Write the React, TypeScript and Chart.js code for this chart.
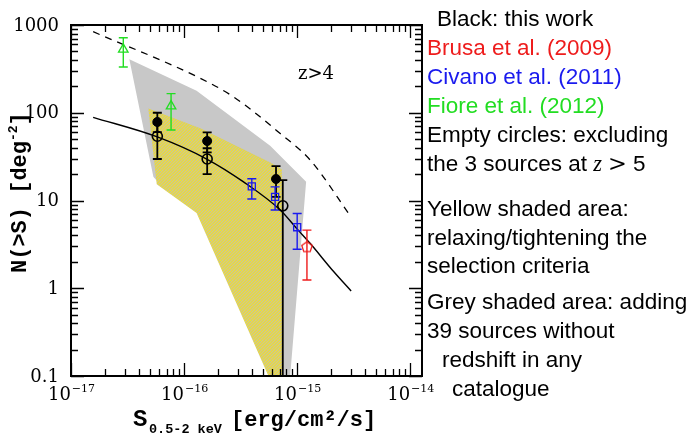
import React, { useEffect, useRef } from 'react';
import { Chart, registerables } from 'chart.js';

Chart.register(...registerables);

// ---------- axis ranges & ticks ----------
const xMin = 1e-17;
const xMax = 1.27e-14;
const yMin = 0.1;
const yMax = 1000;
const xMajorTicks = [1e-17, 1e-16, 1e-15, 1e-14];
const xTickExponents = ['−17', '−16', '−15', '−14'];
const yMajorTicks = [0.1, 1, 10, 100, 1000];
const yTickLabels = ['0.1', '1', '10', '100', '1000'];

// ---------- data ----------
// this work, filled circles
const thisWorkFlux = [5.8e-17, 1.6e-16, 6.5e-16];
const thisWorkN = [78.5, 47.6, 17.6];
const thisWorkHi = [100, 59.8, 24.7];
const thisWorkLo = [60, 35.4, 11];
// this work excluding z>5 sources, empty circles
const exclFlux = [5.8e-17, 1.6e-16, 7.46e-16];
const exclN = [54, 29.7, 8.7];
const exclHi = [75, 39.4, 17.1];
const exclLo = [29.7, 20, 0.05];
// Civano et al. (2011)
const civanoFlux = [3.97e-16, 6.38e-16, 1.0e-15];
const civanoN = [14.5, 11.0, 4.96];
const civanoHi = [17.7, 14.3, 7.1];
const civanoLo = [10.4, 7.8, 2.78];
// Brusa et al. (2009)
const brusaFlux = [1.22e-15];
const brusaN = [2.98];
const brusaHi = [4.6];
const brusaLo = [1.24];
// Fiore et al. (2012)
const fioreFlux = [2.9e-17, 7.67e-17];
const fioreN = [528, 119];
const fioreHi = [716, 165];
const fioreLo = [332, 63.5];
// model curves
const modelFlux = [1.57e-17, 5.8e-17, 1.6e-16, 3.33e-16, 7.08e-16, 1.02e-15, 1.3e-15, 2.1e-15, 3.0e-15];
const modelN = [88.7, 53, 29.5, 16.4, 7.8, 4.6, 3.25, 1.55, 0.93];
const dashedFlux = [1.57e-17, 1.39e-16, 2.73e-16, 7.08e-16, 1.3e-15, 3.0e-15];
const dashedN = [839, 247, 152, 58, 29, 6.5];
// shaded areas (polygon vertices)
const greyFlux = [3.28e-17, 1.29e-16, 5.77e-16, 1.2e-15, 8.67e-16, 6.0e-16, 1.4e-16, 6.5e-17, 5.35e-17, 3.28e-17];
const greyN = [406, 178, 42, 16.4, 0.1, 0.1, 7.5, 14, 18.7, 406];
const yellowFlux = [4.83e-17, 1.39e-16, 5.97e-16, 7.32e-16, 7.32e-16, 5.57e-16, 1.29e-16, 5.73e-17, 4.83e-17];
const yellowN = [112, 66.5, 26.5, 22.5, 0.1, 0.1, 7.2, 15.3, 112];

const BLACK = '#000000';
const RED = '#ee1c1c';
const BLUE = '#1a1aee';
const GREEN = '#22dd22';

const zip = (xs: number[], ys: number[]) => xs.map((x, i) => ({ x, y: ys[i] }));

function makeHatch(): CanvasPattern | string {
  const c = document.createElement('canvas');
  c.width = 3;
  c.height = 3;
  const g = c.getContext('2d');
  if (!g) return '#ddd058';
  g.fillStyle = '#e6d848';
  g.fillRect(0, 0, 3, 3);
  g.fillStyle = '#c9c49c';
  g.fillRect(0, 2, 1, 1);
  g.fillRect(1, 1, 1, 1);
  g.fillRect(2, 0, 1, 1);
  return g.createPattern(c, 'repeat') || '#ddd058';
}

function makePentagon(color: string): HTMLCanvasElement {
  const c = document.createElement('canvas');
  c.width = 14;
  c.height = 14;
  const g = c.getContext('2d');
  if (g) {
    g.strokeStyle = color;
    g.lineWidth = 1.3;
    g.beginPath();
    for (let i = 0; i < 5; i++) {
      const a = -Math.PI / 2 + (i * 2 * Math.PI) / 5;
      const px = 7 + 5.5 * Math.cos(a);
      const py = 7.5 + 5.5 * Math.sin(a);
      if (i === 0) g.moveTo(px, py); else g.lineTo(px, py);
    }
    g.closePath();
    g.stroke();
  }
  return c;
}

const errorSeries = [
  { x: thisWorkFlux, y: thisWorkN, hi: thisWorkHi, lo: thisWorkLo, color: BLACK, w: 1.8 },
  { x: exclFlux, y: exclN, hi: exclHi, lo: exclLo, color: BLACK, w: 1.8 },
  { x: civanoFlux, y: civanoN, hi: civanoHi, lo: civanoLo, color: BLUE, w: 1.4 },
  { x: brusaFlux, y: brusaN, hi: brusaHi, lo: brusaLo, color: RED, w: 1.4 },
  { x: fioreFlux, y: fioreN, hi: fioreHi, lo: fioreLo, color: GREEN, w: 1.4 },
];

const errorBarPlugin = {
  id: 'errorBars',
  afterDatasetDraw(chart: any, args: any) {
    if (args.meta.order !== 7) return;
    const ctx = chart.ctx;
    const xs = chart.scales.x;
    const ys = chart.scales.y;
    const { left, right, top, bottom } = chart.chartArea;
    ctx.save();
    ctx.beginPath();
    ctx.rect(left, top, right - left, bottom - top);
    ctx.clip();
    for (const s of errorSeries) {
      ctx.strokeStyle = s.color;
      ctx.lineWidth = s.w;
      for (let i = 0; i < s.x.length; i++) {
        const px = xs.getPixelForValue(s.x[i]);
        const pHi = ys.getPixelForValue(s.hi[i]);
        const pLo = ys.getPixelForValue(s.lo[i]);
        ctx.beginPath();
        ctx.moveTo(px, pHi);
        ctx.lineTo(px, pLo);
        ctx.moveTo(px - 4.5, pHi);
        ctx.lineTo(px + 4.5, pHi);
        ctx.moveTo(px - 4.5, pLo);
        ctx.lineTo(px + 4.5, pLo);
        ctx.stroke();
      }
    }
    ctx.restore();
  },
};

function drawSup(ctx: CanvasRenderingContext2D, base: string, sup: string, cx: number, y: number) {
  ctx.font = '18px "DejaVu Serif"';
  const wb = ctx.measureText(base).width;
  ctx.font = '11px "DejaVu Serif"';
  const ws = ctx.measureText(sup).width;
  const x0 = cx - (wb + ws) / 2;
  ctx.textAlign = 'left';
  ctx.textBaseline = 'alphabetic';
  ctx.font = '18px "DejaVu Serif"';
  ctx.fillText(base, x0, y);
  ctx.font = '11px "DejaVu Serif"';
  ctx.fillText(sup, x0 + wb + 1, y - 8);
}

const notes = [
  { text: 'Black: this work', color: BLACK, x: 437, y: 26 },
  { text: 'Brusa et al. (2009)', color: RED, x: 427, y: 55 },
  { text: 'Civano et al. (2011)', color: BLUE, x: 427, y: 84 },
  { text: 'Fiore et al. (2012)', color: GREEN, x: 427, y: 113 },
  { text: 'Empty circles: excluding', color: BLACK, x: 427, y: 142 },
  { text: 'Yellow shaded area:', color: BLACK, x: 427, y: 216 },
  { text: 'relaxing/tightening the', color: BLACK, x: 427, y: 245 },
  { text: 'selection criteria', color: BLACK, x: 427, y: 273 },
  { text: 'Grey shaded area: adding', color: BLACK, x: 427, y: 309 },
  { text: '39 sources without', color: BLACK, x: 427, y: 338 },
  { text: 'redshift in any', color: BLACK, x: 442, y: 367 },
  { text: 'catalogue', color: BLACK, x: 452, y: 396 },
];

const axesPlugin = {
  id: 'axesFrame',
  afterDraw(chart: any) {
    const ctx: CanvasRenderingContext2D = chart.ctx;
    const xs = chart.scales.x;
    const ys = chart.scales.y;
    const { left, right, top, bottom } = chart.chartArea;
    ctx.save();
    ctx.strokeStyle = '#000';
    ctx.fillStyle = '#000';
    // ticks
    ctx.lineWidth = 1.3;
    ctx.beginPath();
    for (const dec of xMajorTicks) {
      for (let m = 1; m <= 9; m++) {
        const v = m * dec;
        if (v > xMax * 1.0001) break;
        const px = Math.round(xs.getPixelForValue(v)) + 0.5;
        const len = m === 1 ? 13 : 7;
        ctx.moveTo(px, bottom);
        ctx.lineTo(px, bottom - len);
        ctx.moveTo(px, top);
        ctx.lineTo(px, top + len);
      }
    }
    for (const dec of yMajorTicks) {
      for (let m = 1; m <= 9; m++) {
        const v = m * dec;
        if (v > yMax * 1.0001) break;
        const py = Math.round(ys.getPixelForValue(v)) + 0.5;
        const len = m === 1 ? 13 : 7;
        ctx.moveTo(left, py);
        ctx.lineTo(left + len, py);
        ctx.moveTo(right, py);
        ctx.lineTo(right - len, py);
      }
    }
    ctx.stroke();
    // frame
    ctx.lineWidth = 2;
    ctx.strokeRect(left, top, right - left, bottom - top);

    // tick labels
    ctx.font = '18px "DejaVu Serif"';
    ctx.textAlign = 'right';
    ctx.textBaseline = 'middle';
    yMajorTicks.forEach((v, i) => {
      ctx.fillText(yTickLabels[i], 59, ys.getPixelForValue(v) + 1);
    });
    xMajorTicks.forEach((v, i) => {
      drawSup(ctx, '10', xTickExponents[i], xs.getPixelForValue(v), 400);
    });

    // z>4
    ctx.font = '18px "DejaVu Serif"';
    ctx.textAlign = 'left';
    ctx.textBaseline = 'alphabetic';
    ctx.fillText('z>4', 298, 79);

    // x title
    ctx.font = 'bold 24px "Liberation Mono"';
    ctx.fillText('S', 133, 426);
    ctx.font = 'bold 13.5px "Liberation Mono"';
    ctx.fillText('0.5-2 keV', 149, 433);
    ctx.font = 'bold 22px "Liberation Mono"';
    ctx.fillText('[erg/cm²/s]', 231, 426);

    // y title (rotated)
    ctx.save();
    ctx.translate(26, 273);
    ctx.rotate(-Math.PI / 2);
    ctx.font = 'bold 22px "Liberation Mono"';
    const t1 = 'N(>S) [deg';
    ctx.fillText(t1, 0, 0);
    let w = ctx.measureText(t1).width;
    ctx.font = 'bold 13px "Liberation Mono"';
    ctx.fillText('-2', w, -9);
    w += ctx.measureText('-2').width;
    ctx.font = 'bold 22px "Liberation Mono"';
    ctx.fillText(']', w, 0);
    ctx.restore();

    // notes on the right
    ctx.font = '22.5px "Liberation Sans"';
    for (const n of notes) {
      ctx.fillStyle = n.color;
      ctx.fillText(n.text, n.x, n.y);
    }
    ctx.fillStyle = '#000';
    let x = 427;
    const y = 171;
    const p1 = 'the 3 sources at ';
    ctx.fillText(p1, x, y);
    x += ctx.measureText(p1).width;
    ctx.font = 'italic 22.5px "Liberation Serif"';
    ctx.fillText('z', x, y);
    x += ctx.measureText('z').width + 6;
    ctx.font = '22.5px "DejaVu Serif"';
    ctx.fillText('>', x, y);
    x += ctx.measureText('>').width + 6;
    ctx.font = '22.5px "Liberation Sans"';
    ctx.fillText('5', x, y);

    ctx.restore();
  },
};

export default function App() {
  const ref = useRef<HTMLCanvasElement | null>(null);
  useEffect(() => {
    if (!ref.current) return;
    const hatch = makeHatch();
    const pentagon = makePentagon(RED);
    const chart = new Chart(ref.current, {
      type: 'line',
      data: {
        datasets: [
          {
            label: 'grey',
            data: zip(greyFlux, greyN),
            borderWidth: 0,
            borderColor: 'rgba(0,0,0,0)',
            backgroundColor: '#c8c8c8',
            fill: 'shape',
            pointRadius: 0,
            tension: 0,
            order: 10,
          } as any,
          {
            label: 'yellow',
            data: zip(yellowFlux, yellowN),
            borderWidth: 0,
            borderColor: 'rgba(0,0,0,0)',
            backgroundColor: hatch,
            fill: 'shape',
            pointRadius: 0,
            tension: 0,
            order: 9,
          } as any,
          {
            label: 'model',
            data: zip(modelFlux, modelN),
            borderColor: BLACK,
            borderWidth: 1.4,
            pointRadius: 0,
            fill: false,
            cubicInterpolationMode: 'monotone',
            order: 8,
          },
          {
            label: 'dashed',
            data: zip(dashedFlux, dashedN),
            borderColor: BLACK,
            borderWidth: 1.3,
            borderDash: [7, 6],
            pointRadius: 0,
            fill: false,
            cubicInterpolationMode: 'monotone',
            order: 7,
          },
          {
            label: 'excl',
            data: zip(exclFlux, exclN),
            showLine: false,
            pointStyle: 'circle',
            pointRadius: 5,
            pointBorderWidth: 1.6,
            pointBorderColor: BLACK,
            pointBackgroundColor: 'rgba(0,0,0,0)',
            order: 5,
          },
          {
            label: 'thisWork',
            data: zip(thisWorkFlux, thisWorkN),
            showLine: false,
            pointStyle: 'circle',
            pointRadius: 4.5,
            pointBorderWidth: 1,
            pointBorderColor: BLACK,
            pointBackgroundColor: BLACK,
            order: 4,
          },
          {
            label: 'civano',
            data: zip(civanoFlux, civanoN),
            showLine: false,
            pointStyle: 'rect',
            pointRadius: 5,
            pointBorderWidth: 1.3,
            pointBorderColor: BLUE,
            pointBackgroundColor: 'rgba(0,0,0,0)',
            order: 3,
          },
          {
            label: 'brusa',
            data: zip(brusaFlux, brusaN),
            showLine: false,
            pointStyle: pentagon,
            pointRadius: 6,
            order: 2,
          } as any,
          {
            label: 'fiore',
            data: zip(fioreFlux, fioreN),
            showLine: false,
            pointStyle: 'triangle',
            pointRadius: 5.5,
            pointBorderWidth: 1.3,
            pointBorderColor: GREEN,
            pointBackgroundColor: 'rgba(0,0,0,0)',
            order: 1,
          },
        ],
      },
      options: {
        responsive: false,
        animation: false,
        devicePixelRatio: 1,
        layout: { padding: { left: 71, right: 270, top: 25, bottom: 58 } },
        scales: {
          x: { type: 'logarithmic', min: xMin, max: xMax, display: false },
          y: { type: 'logarithmic', min: yMin, max: yMax, display: false },
        },
        plugins: {
          legend: { display: false },
          tooltip: { enabled: false },
        },
      },
      plugins: [errorBarPlugin, axesPlugin],
    });
    return () => chart.destroy();
  }, []);
  return (
    <div style={{ position: 'fixed', left: 0, top: 0, width: 692, height: 434, background: '#fff' }}>
      <canvas ref={ref} width={692} height={434} style={{ width: 692, height: 434, display: 'block' }} />
    </div>
  );
}
